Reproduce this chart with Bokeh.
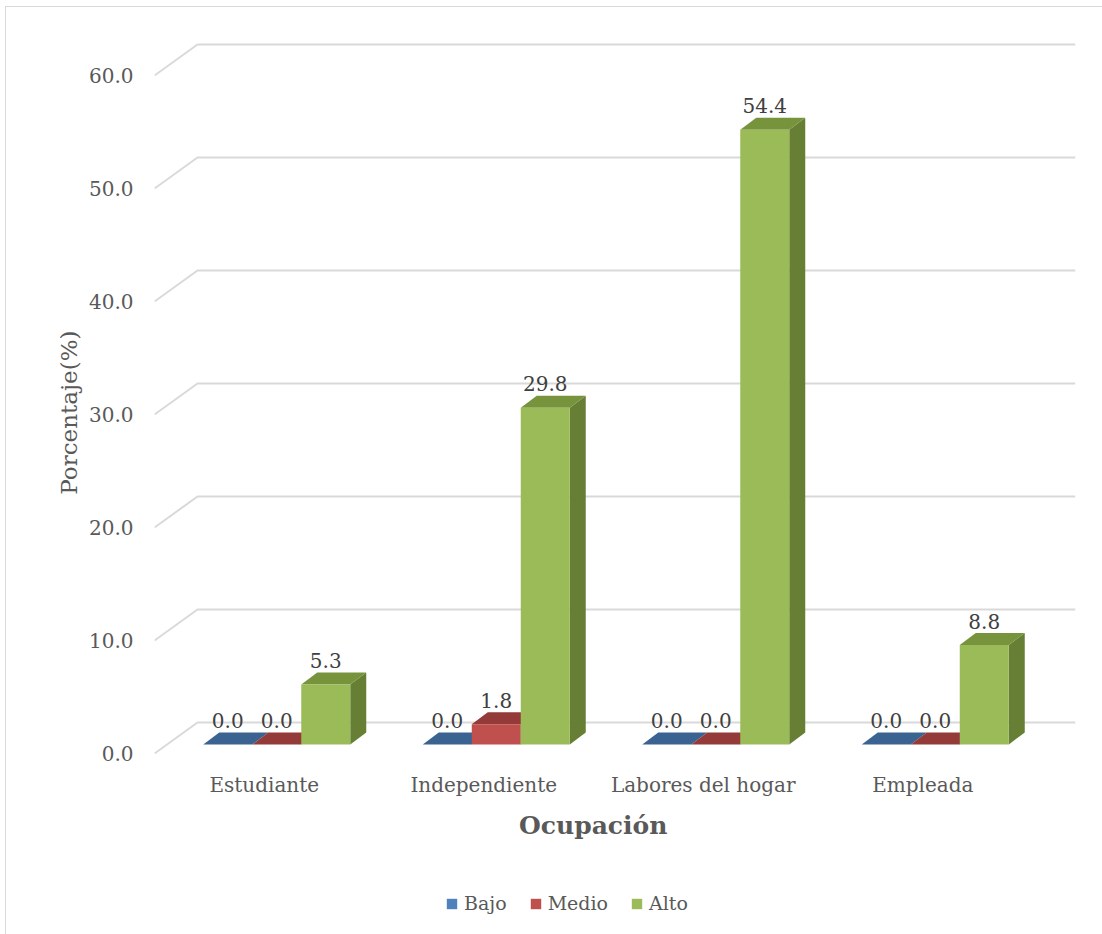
from bokeh.plotting import figure
from bokeh.models import Range1d, FixedTicker, Legend, LegendItem, PrintfTickFormatter
from bokeh.layouts import column
from bokeh.embed import file_html
from bokeh.resources import INLINE
from bokeh.core.properties import value

# ---- data ----
categories = ["Estudiante", "Independiente", "Labores del hogar", "Empleada"]
series_names = ["Bajo", "Medio", "Alto"]
bajo = [0.0, 0.0, 0.0, 0.0]
medio = [0.0, 1.8, 0.0, 0.0]
alto = [5.3, 29.8, 54.4, 8.8]
y_ticks = [0, 10, 20, 30, 40, 50, 60]
x_title = "Ocupación"
y_title = "Porcentaje(%)"

series_values = [bajo, medio, alto]
front_colors = ["#4F81BD", "#C0504D", "#9BBB59"]
top_colors = ["#3B6392", "#943A38", "#77933C"]
side_colors = ["#375B87", "#8C3835", "#667F34"]

FONT = "DejaVu Serif"
TXT = "#595959"
NB = "\u00a0"

# ---- geometry (pixel scale -> data units) ----
PXX = 219.5   # px per category
PXY = 11.3    # px per percent
ddx, ddy = 43 / PXX, 31 / PXY        # floor depth
dx0, dy0 = 12.5 / PXX, 9 / PXY       # bar front offset into depth
bw = 49 / PXX                        # bar width
sdx, sdy = 16 / PXX, 12 / PXY        # bar depth

W, H = 1096, 860
LH = 927 - H
fl, fr, ft, fb = 148, 1069, 23, 758   # frame edges in figure px
zero_px = 746

p = figure(width=W, height=H, output_backend="svg", toolbar_location=None,
           x_range=Range1d(0, (fr - fl) / PXX),
           y_range=Range1d(-(fb - zero_px) / PXY, (zero_px - ft) / PXY),
           min_border_left=fl, min_border_right=W - fr,
           min_border_top=ft, min_border_bottom=H - fb)
p.outline_line_color = None
p.xgrid.visible = False
p.ygrid.visible = False
p.background_fill_color = "white"
p.border_fill_color = "white"

# gridlines with perspective
xend = len(categories) + ddx
gx = [[0, ddx, xend] for t in y_ticks]
gy = [[t, t + ddy, t + ddy] for t in y_ticks]
p.multi_line(gx, gy, line_color="#D9D9D9", line_width=2)

# bars
for s, vals in enumerate(series_values):
    lefts, rights, bottoms, tops = [], [], [], []
    txs, tys, sxs, sys_ = [], [], [], []
    lx, ly, lt = [], [], []
    for i, v in enumerate(vals):
        x0 = i + 0.5 + dx0 - 1.5 * bw + s * bw
        b = dy0
        lefts.append(x0); rights.append(x0 + bw); bottoms.append(b); tops.append(b + v)
        txs.append([x0, x0 + bw, x0 + bw + sdx, x0 + sdx])
        tys.append([b + v, b + v, b + v + sdy, b + v + sdy])
        sxs.append([x0 + bw, x0 + bw, x0 + bw + sdx, x0 + bw + sdx])
        sys_.append([b, b + v, b + v + sdy, b + sdy])
        lx.append(x0 + bw / 2); ly.append(b + v + 24 / PXY); lt.append(f"{v:.1f}")
    p.patches(sxs, sys_, fill_color=side_colors[s], line_color=None)
    p.patches(txs, tys, fill_color=top_colors[s], line_color=None)
    p.quad(left=lefts, right=rights, bottom=bottoms, top=tops,
           fill_color=front_colors[s], line_color=None)
    p.text(lx, ly, text=lt, text_align="center", text_baseline="middle",
           text_font=value(FONT), text_font_size="20px", text_color="#404040")

# axes
p.xaxis.ticker = FixedTicker(ticks=[i + 0.5 for i in range(len(categories))])
p.xaxis.major_label_overrides = {i + 0.5: c for i, c in enumerate(categories)}
p.yaxis.ticker = FixedTicker(ticks=y_ticks)
p.yaxis.formatter = PrintfTickFormatter(format="%.1f")
for ax in (p.xaxis[0], p.yaxis[0]):
    ax.axis_line_color = None
    ax.major_tick_line_color = None
    ax.minor_tick_line_color = None
    ax.major_label_text_font = FONT
    ax.major_label_text_font_size = "20px"
    ax.major_label_text_color = TXT
    ax.axis_label_text_font = FONT
    ax.axis_label_text_color = TXT
p.xaxis.major_label_standoff = 1
p.yaxis.major_label_standoff = 15
p.xaxis.axis_label = x_title + NB * 5
p.xaxis.axis_label_text_font_size = "25px"
p.xaxis.axis_label_text_font_style = "bold"
p.xaxis.axis_label_standoff = 11
p.yaxis.axis_label = y_title + NB * 4
p.yaxis.axis_label_text_font_size = "23px"
p.yaxis.axis_label_text_font_style = "normal"
p.yaxis.axis_label_standoff = 4

# legend strip (its frame is aligned with the main frame by the column layout)
pl = figure(width=W, height=LH, output_backend="svg", toolbar_location=None,
            x_range=Range1d(0, 1), y_range=Range1d(0, 1),
            x_axis_type=None, y_axis_type=None, min_border=0)
pl.outline_line_color = None
pl.xgrid.visible = False
pl.ygrid.visible = False
items = []
for s, name in enumerate(series_names):
    r = pl.quad(left=[-3], right=[-2], bottom=[-3], top=[-2],
                fill_color=front_colors[s], line_color=None)
    items.append(LegendItem(label=name, renderers=[r]))
legend = Legend(items=items, orientation="horizontal", location=(439 - fl, 20),
                glyph_width=13, glyph_height=13, label_standoff=6, spacing=22,
                label_text_font=FONT, label_text_font_size="19px",
                label_text_color=TXT, border_line_color=None,
                background_fill_alpha=0, margin=0, padding=0)
pl.add_layout(legend, "center")

layout = column(p, pl, spacing=0)
layout.styles = {"border-left": "1px solid #D9D9D9", "border-top": "1px solid #D9D9D9",
                 "margin-left": "5px", "margin-top": "6px"}

open("out.html", "w").write(file_html(layout, INLINE))
